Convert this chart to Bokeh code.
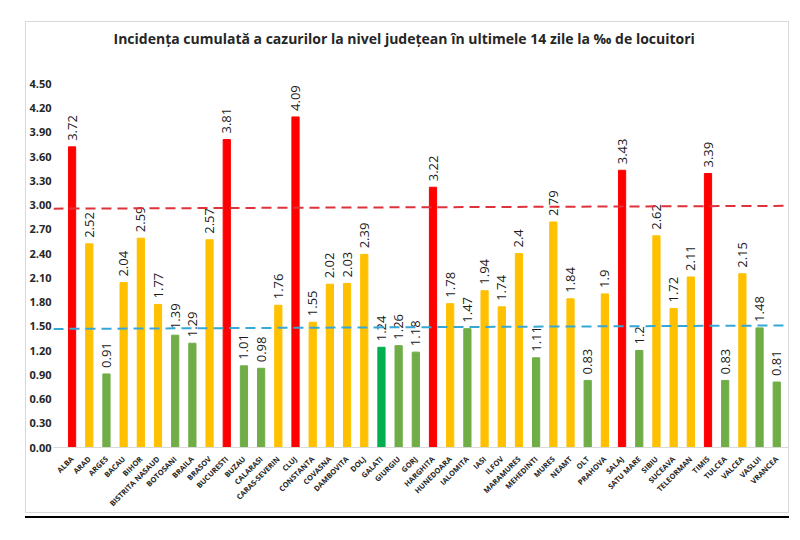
import math
from bokeh.plotting import figure
from bokeh.layouts import column
from bokeh.models import ColumnDataSource, FixedTicker, Range1d, NumeralTickFormatter, Div
from bokeh.core.properties import value
from bokeh.embed import file_html
from bokeh.resources import INLINE

counties = ["ALBA", "ARAD", "ARGES", "BACAU", "BIHOR", "BISTRITA NASAUD", "BOTOSANI",
            "BRAILA", "BRASOV", "BUCURESTI", "BUZAU", "CALARASI", "CARAS-SEVERIN", "CLUJ",
            "CONSTANTA", "COVASNA", "DAMBOVITA", "DOLJ", "GALATI", "GIURGIU", "GORJ",
            "HARGHITA", "HUNEDOARA", "IALOMITA", "IASI", "ILFOV", "MARAMURES", "MEHEDINTI",
            "MURES", "NEAMT", "OLT", "PRAHOVA", "SALAJ", "SATU MARE", "SIBIU", "SUCEAVA",
            "TELEORMAN", "TIMIS", "TULCEA", "VALCEA", "VASLUI", "VRANCEA"]
incidence = [3.72, 2.52, 0.91, 2.04, 2.59, 1.77, 1.39,
             1.29, 2.57, 3.81, 1.01, 0.98, 1.76, 4.09,
             1.55, 2.02, 2.03, 2.39, 1.24, 1.26, 1.18,
             3.22, 1.78, 1.47, 1.94, 1.74, 2.4, 1.11,
             2.79, 1.84, 0.83, 1.9, 3.43, 1.2, 2.62, 1.72,
             2.11, 3.39, 0.83, 2.15, 1.48, 0.81]
y_ticks = [0.00, 0.30, 0.60, 0.90, 1.20, 1.50, 1.80, 2.10, 2.40, 2.70,
           3.00, 3.30, 3.60, 3.90, 4.20, 4.50]
red_threshold = 3.0
green_threshold = 1.5
# hand-drawn threshold lines (slightly sloped), value at left and right end
red_line = [2.955, 2.99]
cyan_line = [1.467, 1.51]
title = "Incidența cumulată a cazurilor la nivel județean în ultimele 14 zile la ‰ de locuitori"

RED, YELLOW, GREEN, GREEN2 = "#FF0000", "#FFC000", "#70AD47", "#00B050"
colors = []
for name, v in zip(counties, incidence):
    if v >= red_threshold:
        colors.append(RED)
    elif v >= green_threshold:
        colors.append(YELLOW)
    elif name == "GALATI":
        colors.append(GREEN2)
    else:
        colors.append(GREEN)

xs = list(range(len(counties)))
labels = [f"{v:g}" for v in incidence]
src = ColumnDataSource(dict(x=xs, top=incidence, color=colors, label=labels))

x_start, x_end = -1.08, 41.8
p = figure(width=764, height=492, output_backend="svg", toolbar_location=None,
           x_range=Range1d(x_start, x_end), y_range=Range1d(0, 4.85),
           min_border_left=23, min_border_right=0, min_border_top=0, min_border_bottom=66,
           margin=(21, 0, 0, 25),
           styles={"border": "1px solid #d9d9d9"})
p.outline_line_color = None
p.xgrid.visible = False
p.ygrid.visible = False
p.background_fill_color = "white"
p.border_fill_color = "white"

p.title.text = title
p.title.align = "left"
p.title.offset = 60
p.title.vertical_align = "top"
p.title.text_font = "Open Sans"
p.title.text_font_style = "bold"
p.title.text_font_size = "14px"
p.title.text_color = "#262626"
p.title.standoff = 12

p.vbar(x="x", top="top", width=0.42, bottom=0, color="color", source=src)
p.text(x="x", y="top", text="label", angle=math.pi / 2, text_align="left",
       text_baseline="middle", y_offset=-6, text_font=value("Open Sans"),
       text_font_size="13px", text_color="#1a1a1a", source=src)

p.line([x_start, x_end], red_line, line_color="#E0303A", line_width=2, line_dash="10 6")
p.line([x_start, x_end], cyan_line, line_color="#35A7D6", line_width=2, line_dash="10 6")

p.yaxis.ticker = FixedTicker(ticks=y_ticks)
p.yaxis.formatter = NumeralTickFormatter(format="0.00")
p.yaxis.axis_line_color = None
p.yaxis.major_tick_line_color = None
p.yaxis.minor_tick_line_color = None
p.yaxis.major_tick_out = 0
p.yaxis.major_tick_in = 0
p.yaxis.minor_tick_out = 0
p.yaxis.axis_label_standoff = 0
p.yaxis.major_label_standoff = 2
p.yaxis.major_label_text_font = "Open Sans"
p.yaxis.major_label_text_font_style = "bold"
p.yaxis.major_label_text_font_size = "11px"
p.yaxis.major_label_text_color = "#262626"

p.xaxis.ticker = FixedTicker(ticks=xs)
p.xaxis.major_label_overrides = {i: n for i, n in zip(xs, counties)}
p.xaxis.major_label_orientation = math.pi / 4
p.xaxis.axis_line_color = "#d9d9d9"
p.xaxis.major_tick_line_color = None
p.xaxis.minor_tick_line_color = None
p.xaxis.major_label_standoff = 4
p.xaxis.major_label_text_font = "Open Sans"
p.xaxis.major_label_text_font_style = "bold"
p.xaxis.major_label_text_font_size = "7.5px"
p.xaxis.major_label_text_color = "#262626"

rule = Div(text="", width=764, height=2, margin=(3, 0, 0, 25),
           styles={"background-color": "black"})

layout = column(p, rule, spacing=0)
open("out.html", "w").write(file_html(layout, INLINE))
